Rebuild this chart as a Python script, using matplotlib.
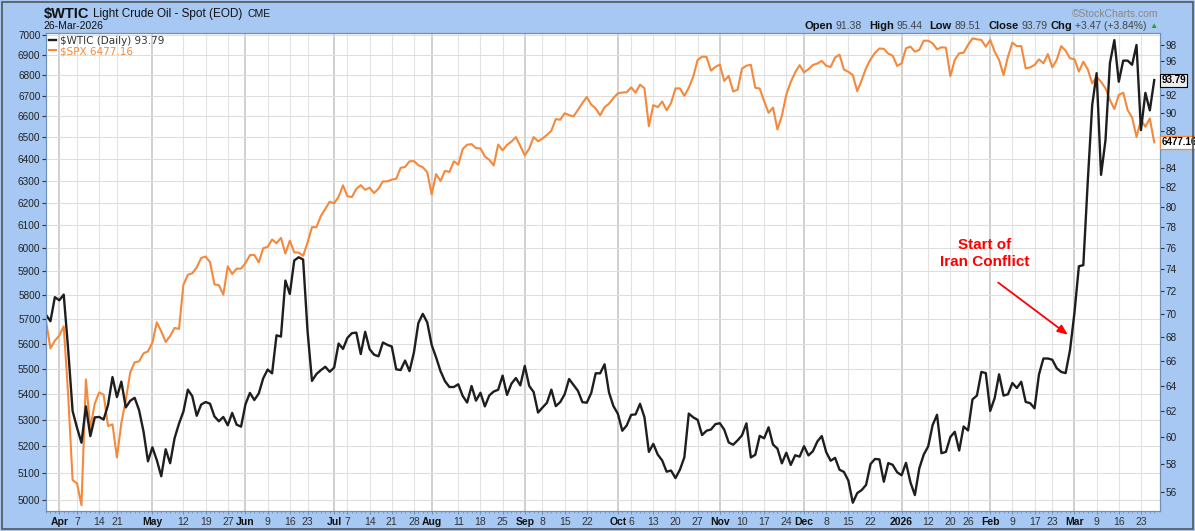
import numpy as np
import pandas as pd
import matplotlib
matplotlib.use("Agg")
import matplotlib.pyplot as plt
from matplotlib.ticker import FixedLocator, FuncFormatter, NullLocator
from matplotlib.patches import Rectangle
from matplotlib.transforms import blended_transform_factory

plt.rcParams["text.parse_math"] = False
plt.rcParams["font.family"] = ["Liberation Sans", "DejaVu Sans"]

# trading days (NYSE holidays removed)
holidays = ["2025-04-18", "2025-05-26", "2025-06-19", "2025-07-04", "2025-09-01",
            "2025-11-27", "2025-12-25", "2026-01-01", "2026-01-19", "2026-02-16"]
days = pd.bdate_range("2025-03-27", "2026-03-26")
days = days[~days.isin(pd.to_datetime(holidays))]

spx = [5693, 5581, 5612, 5633, 5671, 5396, 5074, 5062, 4983, 5457,
       5268, 5363, 5406, 5397, 5276, 5283, 5158, 5288, 5376, 5485,
       5525, 5529, 5561, 5569, 5604, 5687, 5650, 5607, 5631, 5664,
       5660, 5844, 5886, 5892, 5917, 5958, 5964, 5940, 5845, 5842,
       5802, 5922, 5889, 5912, 5912, 5936, 5970, 5971, 5939, 6000,
       6006, 6038, 6022, 6045, 5977, 6033, 5982, 5981, 5967, 6025,
       6092, 6092, 6141, 6173, 6205, 6198, 6227, 6279, 6230, 6226,
       6263, 6280, 6259, 6268, 6244, 6264, 6297, 6297, 6305, 6309,
       6359, 6363, 6389, 6390, 6371, 6362, 6339, 6238, 6330, 6299,
       6345, 6340, 6389, 6374, 6446, 6466, 6469, 6450, 6449, 6411,
       6396, 6370, 6467, 6440, 6465, 6481, 6502, 6460, 6416, 6448,
       6502, 6482, 6495, 6512, 6532, 6587, 6584, 6615, 6606, 6600,
       6631, 6664, 6693, 6656, 6638, 6605, 6644, 6661, 6688, 6711,
       6715, 6716, 6740, 6714, 6753, 6735, 6553, 6654, 6644, 6671,
       6629, 6664, 6735, 6735, 6699, 6738, 6792, 6875, 6891, 6890,
       6822, 6840, 6852, 6771, 6796, 6720, 6728, 6832, 6846, 6851,
       6738, 6734, 6672, 6617, 6642, 6538, 6603, 6705, 6766, 6813,
       6849, 6813, 6829, 6850, 6857, 6870, 6846, 6840, 6887, 6901,
       6827, 6816, 6800, 6721, 6775, 6835, 6878, 6910, 6932, 6930,
       6906, 6896, 6845, 6858, 6933, 6941, 6916, 6925, 6971, 6971,
       6958, 6928, 6938, 6936, 6795, 6875, 6908, 6911, 6950, 6983,
       6978, 6975, 6941, 6975, 6916, 6875, 6800, 6891, 6961, 6944,
       6944, 6833, 6838, 6850, 6878, 6858, 6904, 6838, 6875, 6944,
       6921, 6883, 6878, 6817, 6866, 6828, 6759, 6792, 6767, 6735,
       6679, 6635, 6703, 6714, 6630, 6595, 6503, 6583, 6551, 6590,
       6477.16]

wtic = [69.92, 69.36, 71.48, 71.20, 71.71, 66.95, 61.99, 60.70, 59.58, 62.35,
        60.07, 61.50, 61.53, 61.33, 62.47, 64.68, 63.08, 64.31, 62.27, 62.79,
        63.02, 62.05, 60.42, 58.21, 59.24, 58.29, 57.13, 59.09, 58.07, 59.91,
        61.02, 61.95, 63.67, 63.15, 61.62, 62.49, 62.69, 62.56, 61.57, 61.20,
        61.53, 60.89, 61.84, 60.94, 60.79, 62.52, 63.41, 62.85, 63.37, 64.58,
        65.29, 64.98, 68.15, 68.04, 72.98, 71.77, 74.84, 75.14, 74.93, 68.51,
        64.37, 64.92, 65.24, 65.52, 65.11, 65.45, 67.45, 67.00, 67.93, 68.33,
        68.38, 66.57, 68.45, 66.98, 66.52, 66.38, 67.54, 67.34, 67.20, 65.31,
        65.25, 66.03, 65.16, 66.71, 69.21, 70.00, 69.26, 67.33, 66.29, 65.16,
        64.35, 63.88, 63.88, 64.10, 63.17, 62.65, 63.96, 62.80, 63.42, 62.35,
        63.21, 63.52, 63.66, 64.80, 63.25, 64.15, 64.60, 64.01, 65.59, 63.97,
        63.48, 61.87, 62.26, 62.63, 63.67, 62.37, 62.69, 63.30, 64.52, 64.05,
        63.57, 62.68, 62.64, 63.41, 64.99, 64.98, 65.72, 63.45, 62.37, 61.78,
        60.48, 60.88, 61.69, 61.73, 62.55, 61.51, 58.90, 59.49, 58.70, 58.27,
        57.46, 57.54, 57.00, 57.60, 58.50, 61.79, 61.50, 61.31, 60.15, 60.48,
        60.57, 60.98, 61.05, 60.56, 59.60, 59.43, 59.75, 60.13, 61.04, 58.49,
        58.69, 60.09, 59.91, 60.74, 59.44, 59.14, 58.06, 58.84, 57.95, 58.65,
        58.55, 59.32, 58.64, 58.95, 59.67, 60.08, 58.88, 58.25, 58.46, 57.60,
        57.44, 56.82, 55.27, 55.94, 56.15, 56.52, 58.01, 58.38, 58.35, 56.74,
        58.08, 57.95, 57.42, 57.2, 58.1, 56.7, 55.8, 57.7, 58.7, 59.3,
        60.9, 61.7, 58.8, 58.9, 60.0, 60.4, 59.0, 60.8, 60.5, 62.9,
        63.2, 65.1, 65.0, 62.0, 63.0, 64.9, 63.2, 63.3, 64.2, 63.8,
        64.3, 62.7, 62.6, 62.2, 64.9, 66.2, 66.2, 66.1, 65.4, 65.1,
        65.0, 66.9, 70.1, 74.3, 74.4, 82.6, 90.9, 94.6, 83.3, 87.0,
        95.8, 98.6, 93.6, 96.1, 96.1, 95.6, 98.0, 88.1, 92.3, 90.3,
        93.79]

tick_dates = ["2025-04-01", "2025-04-07", "2025-04-14", "2025-04-21", "2025-05-01",
              "2025-05-12", "2025-05-19", "2025-05-27", "2025-06-02", "2025-06-09",
              "2025-06-16", "2025-06-23", "2025-07-01", "2025-07-07", "2025-07-14",
              "2025-07-21", "2025-07-28", "2025-08-01", "2025-08-11", "2025-08-18",
              "2025-08-25", "2025-09-02", "2025-09-08", "2025-09-15", "2025-09-22",
              "2025-10-01", "2025-10-06", "2025-10-13", "2025-10-20", "2025-10-27",
              "2025-11-03", "2025-11-10", "2025-11-17", "2025-11-24", "2025-12-01",
              "2025-12-08", "2025-12-15", "2025-12-22", "2026-01-02", "2026-01-12",
              "2026-01-20", "2026-01-26", "2026-02-02", "2026-02-09", "2026-02-17",
              "2026-02-23", "2026-03-02", "2026-03-09", "2026-03-16", "2026-03-23"]
tick_labels = ["Apr", "7", "14", "21", "May", "12", "19", "27", "Jun", "9",
               "16", "23", "Jul", "7", "14", "21", "28", "Aug", "11", "18",
               "25", "Sep", "8", "15", "22", "Oct", "6", "13", "20", "27",
               "Nov", "10", "17", "24", "Dec", "8", "15", "22", "2026", "12",
               "20", "26", "Feb", "9", "17", "23", "Mar", "9", "16", "23"]
month_labels = ["Apr", "May", "Jun", "Jul", "Aug", "Sep", "Oct", "Nov", "Dec",
                "2026", "Feb", "Mar"]

spx_ticks = list(range(5000, 7001, 100))
wtic_ticks = list(range(56, 99, 2))
hidden_wtic = [94, 86]  # covered by the last-value boxes

W, H = 1195, 531
BG = "#a6c8f2"
ORANGE = "#f4893c"
BLACK = "#1e1e1e"
SPINE = "#6f8fb8"

x = np.arange(len(days))
pos = {d: i for i, d in enumerate(days)}
tick_x = [pos[pd.Timestamp(d)] for d in tick_dates]

fig = plt.figure(figsize=(W / 100, H / 100), dpi=100, facecolor=BG)
L, R, T, B = 46, 1160, 33, 511
ax = fig.add_axes([L / W, 1 - B / H, (R - L) / W, (B - T) / H])
ax.set_facecolor("white")
ax2 = ax.twinx()

ax.set_xlim(0, (R - L) / 4.433)
for a, lo, hi, tks, skip in [(ax, 4962, 7010, spx_ticks, []),
                             (ax2, 54.7, 99.48, wtic_ticks, hidden_wtic)]:
    a.set_yscale("log")
    a.set_ylim(lo, hi)
    a.yaxis.set_major_locator(FixedLocator(tks))
    a.yaxis.set_major_formatter(FuncFormatter(
        lambda v, p, skip=skip: "" if round(v) in skip else f"{v:.0f}"))
    a.yaxis.set_minor_locator(NullLocator())
    a.tick_params(axis="y", length=3, pad=1, labelsize=7.2, labelcolor="#222222", color="#333333")
    for s in a.spines.values():
        s.set_color(SPINE)

ax.grid(axis="y", color="#dedede", lw=0.8)
ax.set_axisbelow(True)
for tx, lab in zip(tick_x, tick_labels):
    if lab in month_labels:
        ax.axvline(tx, color="#c4c4c4", lw=1.1, zorder=0)
    else:
        ax.axvline(tx, color="#e3e3e3", lw=0.8, zorder=0)

ax.set_xticks(tick_x)
ax.set_xticklabels(tick_labels)
for t, lab in zip(ax.get_xticklabels(), tick_labels):
    if lab in month_labels:
        t.set_fontweight("bold")
        t.set_color("#111111")
    else:
        t.set_color("#333333")
ax.xaxis.set_minor_locator(FixedLocator(x))
ax.tick_params(axis="x", which="major", length=2.5, pad=2, labelsize=7.5, color=SPINE)
ax.tick_params(axis="x", which="minor", length=1.5, color=SPINE)

ax.plot(x, spx, color=ORANGE, lw=1.5, label="$SPX 6477.16")
ax2.plot(x, wtic, color=BLACK, lw=1.7, label="$WTIC (Daily) 93.79")

h1, l1 = ax2.get_legend_handles_labels()
h2, l2 = ax.get_legend_handles_labels()
ax2.legend(h1 + h2, l1 + l2, loc="upper left", bbox_to_anchor=(0, 1.0), frameon=False,
           borderaxespad=0.1, borderpad=0.15, handlelength=0.7, handletextpad=0.4,
           labelspacing=0.05, prop={"family": "DejaVu Sans", "size": 7.5},
           labelcolor=["#333333", ORANGE])

# value boxes on the right edge
ax2.annotate("93.79", xy=(1, wtic[-1]), xycoords=("axes fraction", "data"),
             xytext=(1, 0), textcoords="offset points", ha="left", va="center",
             fontsize=7, fontweight="bold", annotation_clip=False, zorder=10,
             bbox=dict(boxstyle="square,pad=0.15", fc="#ececec", ec="black", lw=0.8))
ax2.annotate("6477.16", xy=(1, spx[-1]), xycoords=blended_transform_factory(ax2.transAxes, ax.transData),
             xytext=(1, 0), textcoords="offset points", ha="left", va="center",
             fontsize=7, fontweight="bold", annotation_clip=False, zorder=10,
             bbox=dict(boxstyle="square,pad=0.15", fc="white", ec=ORANGE, lw=0.9))

# annotation
ax2.text(211.8, 75.5, "Start of\nIran Conflict", color="red", fontsize=11,
         fontweight="bold", ha="center", va="center", linespacing=1.35, zorder=6)
ax2.annotate("", xy=(230.5, 68.2), xytext=(214.8, 72.8), zorder=6,
             arrowprops=dict(arrowstyle="-|>,head_length=0.6,head_width=0.25",
                             color="red", lw=1.3, shrinkA=0, shrinkB=0))

# header
fig.canvas.draw()
rend = fig.canvas.get_renderer()


def chain(pieces, x0, y, align="left"):
    xx = x0
    seq = pieces if align == "left" else pieces[::-1]
    for s, size, weight, color, gap in seq:
        t = fig.text(xx / W, 1 - y / H, s, fontsize=size, fontweight=weight,
                     color=color, ha=align, va="center")
        bb = t.get_window_extent(rend)
        xx = bb.x1 + gap if align == "left" else bb.x0 - gap


chain([("$WTIC", 10.5, "bold", "#111111", 4),
       ("Light Crude Oil - Spot (EOD)", 8.5, "normal", "#111111", 5),
       ("CME", 7.5, "normal", "#111111", 0)], 44, 14)
fig.text(43 / W, 1 - 26 / H, "26-Mar-2026", fontsize=7.5, color="#111111", ha="left", va="center")
fig.text(1158 / W, 1 - 14 / H, "\u00a9StockCharts.com", fontsize=7.5, color="#888888",
         ha="right", va="center")
chain([("Open", 8, "bold", "#111111", 7), ("91.38", 7.5, "normal", "#444444", 3),
       ("High", 8, "bold", "#111111", 7), ("95.44", 7.5, "normal", "#444444", 3),
       ("Low", 8, "bold", "#111111", 7), ("89.51", 7.5, "normal", "#444444", 3),
       ("Close", 8, "bold", "#111111", 7), ("93.79", 7.5, "normal", "#444444", 3),
       ("Chg", 8, "bold", "#111111", 3), ("+3.47 (+3.84%)", 7.5, "normal", "#444444", 3),
       ("\u25b2", 6, "normal", "#2e9e3a", 3)], 1158, 26, align="right")

fig.add_artist(Rectangle((2 / W, 2 / H), (W - 4) / W, (H - 4) / H, transform=fig.transFigure,
                         fill=False, ec="#555555", lw=1.2))

fig.savefig("out.png", dpi=100, facecolor=BG)
